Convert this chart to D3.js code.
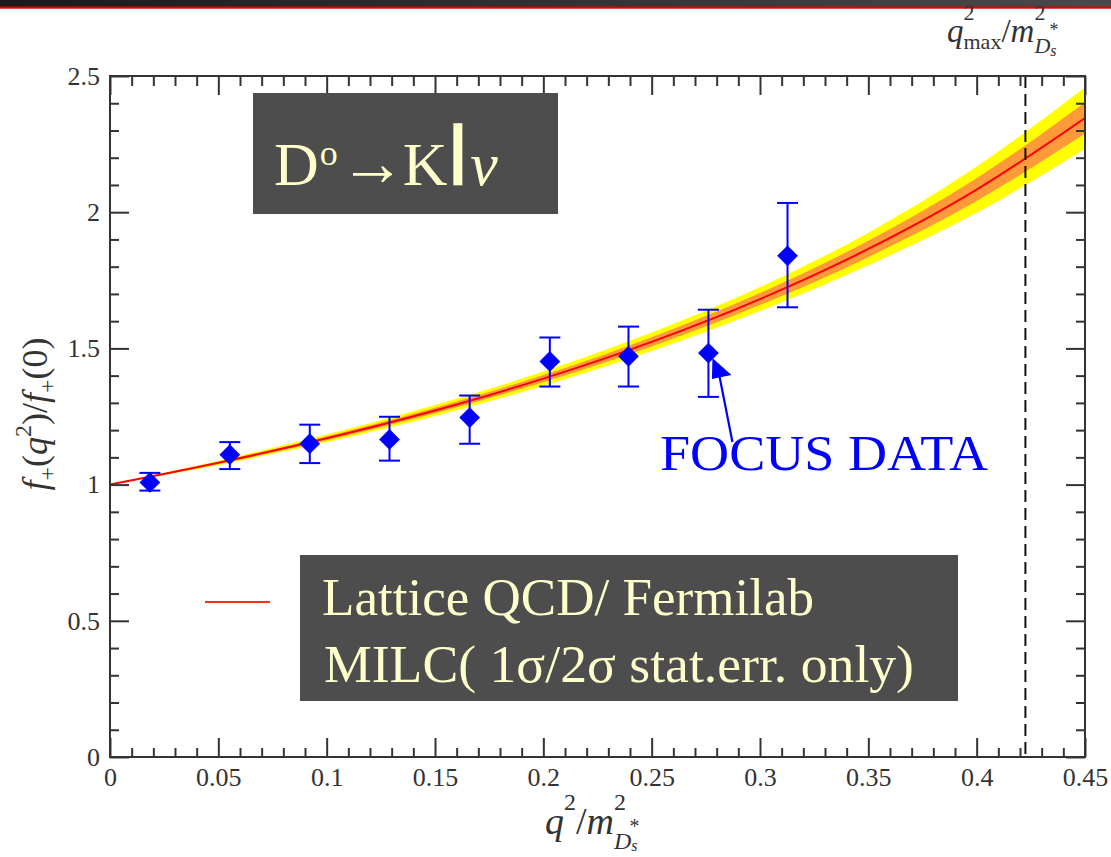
<!DOCTYPE html>
<html>
<head>
<meta charset="utf-8">
<script src="https://cdn.jsdelivr.net/npm/d3@7"></script>
<style>
  html, body { margin: 0; padding: 0; background: #fff; }
  svg { display: block; }
  text { font-family: "Liberation Serif", "Times New Roman", serif; }
</style>
</head>
<body>
<svg id="chart" width="1111" height="857"></svg>
<script>
// FOCUS measurements of f+(q^2)/f+(0) for D0 -> K l nu
const focusQ2    = [0.0184, 0.0553, 0.0922, 0.129, 0.166, 0.203, 0.2393, 0.2762, 0.3127];
const focusF     = [1.008, 1.110, 1.150, 1.166, 1.246, 1.452, 1.471, 1.483, 1.840];
const focusErrHi = [1.043, 1.156, 1.220, 1.249, 1.327, 1.540, 1.580, 1.642, 2.034];
const focusErrLo = [0.978, 1.057, 1.079, 1.088, 1.150, 1.360, 1.360, 1.322, 1.651];

// Lattice QCD (Fermilab/MILC) form factor with 1 sigma / 2 sigma statistical bands
const latticeQ2     = [0, 0.05, 0.1, 0.15, 0.2, 0.25, 0.3, 0.35, 0.4, 0.45];
const latticeF      = [1.000, 1.080, 1.170, 1.272, 1.389, 1.524, 1.681, 1.865, 2.083, 2.346];
const latticeSigma1 = [0, 0.004, 0.007, 0.010, 0.013, 0.017, 0.022, 0.030, 0.042, 0.057];
const latticeSigma2 = [0, 0.008, 0.014, 0.020, 0.026, 0.034, 0.044, 0.060, 0.085, 0.113];

// kinematic endpoint q^2_max / m^2_{Ds*}
const q2Max = 0.4225;

// axis ticks
const xMajorTicks = [0, 0.05, 0.1, 0.15, 0.2, 0.25, 0.3, 0.35, 0.4, 0.45];
const xTickLabels = ["0", "0.05", "0.1", "0.15", "0.2", "0.25", "0.3", "0.35", "0.4", "0.45"];
const yMajorTicks = [0, 0.5, 1, 1.5, 2, 2.5];
const yTickLabels = ["0", "0.5", "1", "1.5", "2", "2.5"];

const svg = d3.select("#chart");
const margin = { left: 110, right: 1085, top: 76, bottom: 757 };

const x = d3.scaleLinear().domain([0, 0.45]).range([margin.left, margin.right]);
const y = d3.scaleLinear().domain([0, 2.5]).range([margin.bottom, margin.top]);

// header strip
const defs = svg.append("defs");
const grad = defs.append("linearGradient").attr("id", "hdr").attr("x1", 0).attr("x2", 1);
grad.append("stop").attr("offset", 0).attr("stop-color", "#1a1a1a");
grad.append("stop").attr("offset", 1).attr("stop-color", "#4a4a4a");
svg.append("rect").attr("x", 0).attr("y", 0).attr("width", 1111).attr("height", 7).attr("fill", "url(#hdr)");
svg.append("rect").attr("x", 0).attr("y", 6.5).attr("width", 1111).attr("height", 2.2).attr("fill", "#e00000");

defs.append("clipPath").attr("id", "plotClip")
  .append("rect")
  .attr("x", margin.left).attr("y", margin.top)
  .attr("width", margin.right - margin.left).attr("height", margin.bottom - margin.top);

// lattice bands and central curve
const lattice = latticeQ2.map((q, i) => ({ q, f: latticeF[i], s1: latticeSigma1[i], s2: latticeSigma2[i] }));
const plot = svg.append("g").attr("clip-path", "url(#plotClip)");

plot.append("path").datum(lattice)
  .attr("fill", "#ffff00")
  .attr("d", d3.area().curve(d3.curveMonotoneX).x(d => x(d.q)).y0(d => y(d.f - d.s2)).y1(d => y(d.f + d.s2)));
plot.append("path").datum(lattice)
  .attr("fill", "#ff9a3a")
  .attr("d", d3.area().curve(d3.curveMonotoneX).x(d => x(d.q)).y0(d => y(d.f - d.s1)).y1(d => y(d.f + d.s1)));
plot.append("path").datum(lattice)
  .attr("fill", "none").attr("stroke", "#ff0000").attr("stroke-width", 2)
  .attr("d", d3.line().curve(d3.curveMonotoneX).x(d => x(d.q)).y(d => y(d.f)));

// endpoint marker
svg.append("line")
  .attr("x1", x(q2Max)).attr("x2", x(q2Max))
  .attr("y1", y(2.5)).attr("y2", y(0))
  .attr("stroke", "#111").attr("stroke-width", 2).attr("stroke-dasharray", "12,6");

// axes with inward major/minor ticks on all four sides
const xMinor = d3.range(0, 0.4501, 0.01).map(v => +v.toFixed(2)).filter(v => !xMajorTicks.some(m => Math.abs(m - v) < 1e-6));
const yMinor = d3.range(0, 2.5001, 0.1).map(v => +v.toFixed(1)).filter(v => !yMajorTicks.some(m => Math.abs(m - v) < 1e-6));
const axisColor = "#333";

function styleAxis(g) {
  g.select(".domain").remove();
  g.selectAll(".tick line").attr("stroke", axisColor).attr("stroke-width", 2);
  g.selectAll(".tick text").attr("fill", axisColor).attr("font-size", 26)
    .attr("font-family", "'Liberation Serif', serif");
}

svg.append("g").attr("transform", `translate(0,${y(0)})`)
  .call(d3.axisBottom(x).tickValues(xMajorTicks).tickSize(-19).tickPadding(11)
    .tickFormat((d, i) => xTickLabels[i]))
  .call(styleAxis);
svg.append("g").attr("transform", `translate(0,${y(0)})`)
  .call(d3.axisBottom(x).tickValues(xMinor).tickSize(-9).tickFormat(""))
  .call(styleAxis);
svg.append("g").attr("transform", `translate(0,${y(2.5)})`)
  .call(d3.axisTop(x).tickValues(xMajorTicks).tickSize(-19).tickFormat(""))
  .call(styleAxis);
svg.append("g").attr("transform", `translate(0,${y(2.5)})`)
  .call(d3.axisTop(x).tickValues(xMinor).tickSize(-10).tickFormat(""))
  .call(styleAxis);

svg.append("g").attr("transform", `translate(${x(0)},0)`)
  .call(d3.axisLeft(y).tickValues(yMajorTicks).tickSize(-19).tickPadding(10)
    .tickFormat((d, i) => yTickLabels[i]))
  .call(styleAxis);
svg.append("g").attr("transform", `translate(${x(0)},0)`)
  .call(d3.axisLeft(y).tickValues(yMinor).tickSize(-9).tickFormat(""))
  .call(styleAxis);
svg.append("g").attr("transform", `translate(${x(0.45)},0)`)
  .call(d3.axisRight(y).tickValues(yMajorTicks).tickSize(-19).tickFormat(""))
  .call(styleAxis);
svg.append("g").attr("transform", `translate(${x(0.45)},0)`)
  .call(d3.axisRight(y).tickValues(yMinor).tickSize(-9).tickFormat(""))
  .call(styleAxis);

svg.append("rect")
  .attr("x", x(0)).attr("y", y(2.5))
  .attr("width", x(0.45) - x(0)).attr("height", y(0) - y(2.5))
  .attr("fill", "none").attr("stroke", axisColor).attr("stroke-width", 2);

// FOCUS points with error bars
const focus = focusQ2.map((q, i) => ({ q, f: focusF[i], hi: focusErrHi[i], lo: focusErrLo[i] }));
const pts = svg.append("g");
const capW = 10.5;
pts.selectAll("line.bar").data(focus).join("line").attr("class", "bar")
  .attr("x1", d => x(d.q)).attr("x2", d => x(d.q))
  .attr("y1", d => y(d.hi)).attr("y2", d => y(d.lo))
  .attr("stroke", "#0000ff").attr("stroke-width", 2);
pts.selectAll("line.capHi").data(focus).join("line").attr("class", "capHi")
  .attr("x1", d => x(d.q) - capW).attr("x2", d => x(d.q) + capW)
  .attr("y1", d => y(d.hi)).attr("y2", d => y(d.hi))
  .attr("stroke", "#0000ff").attr("stroke-width", 2);
pts.selectAll("line.capLo").data(focus).join("line").attr("class", "capLo")
  .attr("x1", d => x(d.q) - capW).attr("x2", d => x(d.q) + capW)
  .attr("y1", d => y(d.lo)).attr("y2", d => y(d.lo))
  .attr("stroke", "#0000ff").attr("stroke-width", 2);
pts.selectAll("path.pt").data(focus).join("path").attr("class", "pt")
  .attr("d", d3.symbol().type(d3.symbolSquare).size(215))
  .attr("transform", d => `translate(${x(d.q)},${y(d.f)}) rotate(45)`)
  .attr("fill", "#0000ff");

// annotation pointing at one FOCUS point
const tgt = focus[7];
const tipX = x(tgt.q) + 4, tipY = y(tgt.f) + 5;
svg.append("line")
  .attr("x1", tipX + 20).attr("y1", tipY + 84)
  .attr("x2", tipX + 7).attr("y2", tipY + 18)
  .attr("stroke", "#0000ff").attr("stroke-width", 2.2);
svg.append("path")
  .attr("d", `M${tipX},${tipY} L${tipX - 0.5},${tipY + 21} L${tipX + 19},${tipY + 17} Z`)
  .attr("fill", "#0000ff");
svg.append("text").attr("x", 660).attr("y", 470)
  .attr("font-size", 50).attr("fill", "#0000ff")
  .attr("textLength", 328).attr("lengthAdjust", "spacingAndGlyphs")
  .text("FOCUS DATA");

// decay title box
svg.append("rect").attr("x", 253).attr("y", 93).attr("width", 305).attr("height", 121).attr("fill", "#4d4d4d");
const title = svg.append("text").attr("x", 274).attr("y", 185).attr("fill", "#ffffcc").attr("font-size", 62);
title.append("tspan").text("D");
title.append("tspan").attr("font-size", 36).attr("dy", -20).attr("dx", 1).text("o");
title.append("tspan").attr("dy", 20).attr("dx", 2).attr("font-size", 66).text("→");
title.append("tspan").attr("dx", -3).text("K");
title.append("tspan").attr("font-family", "'Liberation Sans', sans-serif")
  .attr("font-size", 84).attr("stroke", "#ffffcc").attr("stroke-width", 1.5).attr("dx", 1).text("l");
title.append("tspan").attr("font-style", "italic").attr("dx", 3).text("ν");

// legend box
svg.append("line").attr("x1", 205).attr("x2", 270).attr("y1", 602).attr("y2", 602)
  .attr("stroke", "#ff3300").attr("stroke-width", 2);
svg.append("rect").attr("x", 300).attr("y", 555).attr("width", 658).attr("height", 146).attr("fill", "#4d4d4d");
svg.append("text").attr("x", 322).attr("y", 615).attr("font-size", 53).attr("fill", "#ffffcc")
  .attr("textLength", 492).attr("lengthAdjust", "spacingAndGlyphs")
  .text("Lattice QCD/ Fermilab");
svg.append("text").attr("x", 324).attr("y", 682).attr("font-size", 53).attr("fill", "#ffffcc")
  .attr("textLength", 590).attr("lengthAdjust", "spacingAndGlyphs")
  .text("MILC( 1σ/2σ stat.err. only)");

// y axis title: f+(q^2)/f+(0)
const yt = svg.append("text")
  .attr("transform", "translate(47,414) rotate(-90)")
  .attr("text-anchor", "middle").attr("font-size", 36).attr("fill", "#333");
yt.append("tspan").attr("font-style", "italic").text("f");
yt.append("tspan").attr("font-size", 24).attr("dy", 8).text("+");
yt.append("tspan").attr("dy", -8).text("(");
yt.append("tspan").attr("font-style", "italic").text("q");
yt.append("tspan").attr("font-size", 24).attr("dy", -16).text("2");
yt.append("tspan").attr("dy", 16).text(")/");
yt.append("tspan").attr("font-style", "italic").text("f");
yt.append("tspan").attr("font-size", 24).attr("dy", 8).text("+");
yt.append("tspan").attr("dy", -8).text("(0)");

// x axis title: q^2 / m^2_{Ds*}
const xt = svg.append("text").attr("x", 545).attr("y", 834)
  .attr("font-size", 38).attr("fill", "#333").attr("font-style", "italic");
xt.append("tspan").text("q");
xt.append("tspan").attr("font-size", 24).attr("font-style", "normal").attr("dy", -24).text("2");
xt.append("tspan").attr("font-style", "normal").attr("dy", 24).text("/");
xt.append("tspan").text("m");
xt.append("tspan").attr("font-size", 24).attr("font-style", "normal").attr("dy", -24).text("2");
xt.append("tspan").attr("font-size", 24).attr("dx", -12).attr("dy", 39).text("D");
xt.append("tspan").attr("font-size", 16).attr("dy", 2).text("s");
xt.append("tspan").attr("font-size", 20).attr("font-style", "normal").attr("dx", -8).attr("dy", -18).text("*");

// endpoint label: q^2_max / m^2_{Ds*}
const et = svg.append("text").attr("x", 947).attr("y", 42)
  .attr("font-size", 33).attr("fill", "#333").attr("font-style", "italic");
et.append("tspan").text("q");
et.append("tspan").attr("font-size", 22).attr("font-style", "normal").attr("dy", -22).text("2");
et.append("tspan").attr("font-size", 22).attr("font-style", "normal").attr("dx", -11).attr("dy", 29).text("max");
et.append("tspan").attr("font-style", "normal").attr("dy", -7).text("/");
et.append("tspan").text("m");
et.append("tspan").attr("font-size", 22).attr("font-style", "normal").attr("dy", -22).text("2");
et.append("tspan").attr("font-size", 22).attr("dx", -11).attr("dy", 33).text("D");
et.append("tspan").attr("font-size", 16).attr("dy", 3).text("s");
et.append("tspan").attr("font-size", 18).attr("font-style", "normal").attr("dx", -7).attr("dy", -20).text("*");
</script>
</body>
</html>
